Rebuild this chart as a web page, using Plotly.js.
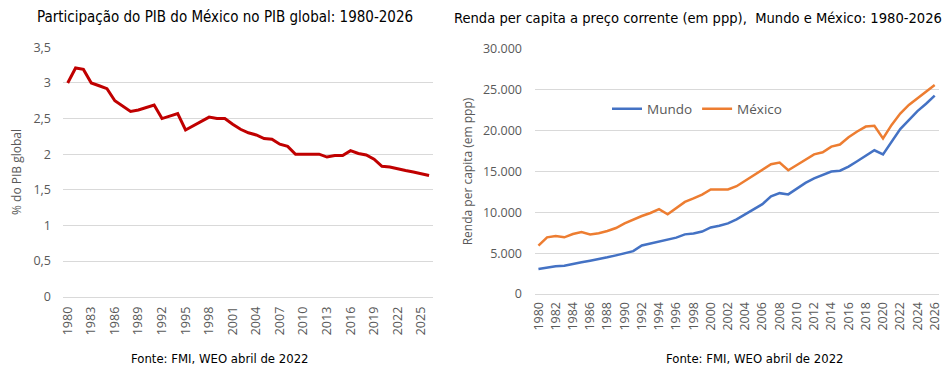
<!DOCTYPE html>
<html>
<head>
<meta charset="utf-8">
<script src="https://cdn.plot.ly/plotly-3.0.1.min.js"></script>
<style>html,body{margin:0;padding:0;background:#fff}#chart{width:952px;height:376px}</style>
</head>
<body>
<div id="chart"></div>
<script>
const years = [];
for (let y = 1980; y <= 2026; y++) years.push(y);

const sharePIB = [3.00,3.21,3.19,3.00,2.96,2.92,2.75,2.68,2.60,2.62,2.65,2.69,2.50,2.53,2.57,2.34,2.40,2.47,2.52,2.50,
  2.50,2.42,2.35,2.30,2.27,2.22,2.21,2.14,2.11,2.00,2.00,2.00,2.00,1.96,1.98,1.98,2.05,2.01,1.99,1.93,
  1.83,1.82,1.79,1.77,1.75,1.72,1.70];

const mundo = [3060,3270,3390,3470,3630,3880,4080,4240,4490,4730,4980,5250,5950,6200,6450,6700,6900,7300,7400,7650,
  8150,8350,8650,9150,9800,10350,11000,11950,12350,12200,12950,13600,14150,14600,15000,15100,15600,16250,16950,17600,
  17100,18700,20200,21300,22400,23300,24300];

const mexico = [5920,6940,7100,6940,7350,7590,7300,7430,7710,8080,8650,9140,9550,9920,10400,9760,10500,11270,11700,12160,
  12800,12800,12800,13200,13900,14500,15300,15900,16100,15150,15800,16450,17100,17350,18050,18300,19200,19900,20500,20600,
  19050,20700,22100,23150,23950,24800,25600];

const titleLeft = "Participação do PIB do México no PIB global: 1980-2026";
const titleRight = "Renda per capita a preço corrente (em ppp),  Mundo e México: 1980-2026";
const source = "Fonte: FMI, WEO abril de 2022";

const narrow = "Liberation Sans Narrow, Arial Narrow, DejaVu Sans Condensed, sans-serif";
const tickFont = {family: "Open Sans, Liberation Sans, sans-serif", size: 12.5, color: "#595959"};
const axTitleFont = {family: "Open Sans, Liberation Sans, sans-serif", size: 12, color: "#595959"};
const W = 952, H = 376;
const fx = p => p / W;
const fy = p => (H - p) / H;

const traces = [
  {x: years, y: sharePIB, type: "scatter", mode: "lines", xaxis: "x", yaxis: "y",
   line: {color: "#C00000", width: 3}, showlegend: false},
  {x: years, y: mundo, type: "scatter", mode: "lines", name: "Mundo", xaxis: "x2", yaxis: "y2",
   line: {color: "#4472C4", width: 2.5}},
  {x: years, y: mexico, type: "scatter", mode: "lines", name: "México", xaxis: "x2", yaxis: "y2",
   line: {color: "#ED7D31", width: 2.5}}
];

const layout = {
  width: W, height: H,
  margin: {l: 0, r: 0, t: 0, b: 0},
  paper_bgcolor: "#fff", plot_bgcolor: "#fff",
  separators: ",.",
  showlegend: true,
  legend: {orientation: "h", x: fx(607), y: fy(109), xanchor: "left", yanchor: "middle",
    font: {family: "Open Sans, Liberation Sans, sans-serif", size: 13.5, color: "#595959"},
    bgcolor: "rgba(0,0,0,0)", itemwidth: 30, tracegroupgap: 0},
  xaxis: {domain: [fx(63), fx(433)], anchor: "y", range: [1979.4, 2026.5],
    tickmode: "linear", tick0: 1980, dtick: 3, tickangle: -90, ticks: "",
    showgrid: false, zeroline: false, showline: true, linecolor: "#D9D9D9",
    tickfont: tickFont, ticklabelstandoff: 4},
  yaxis: {domain: [fy(296.7), fy(47.3)], anchor: "x", range: [0, 3.5],
    tickmode: "linear", tick0: 0, dtick: 0.5, showgrid: true, gridcolor: "#D9D9D9",
    zeroline: false, showline: false, ticks: "", tickfont: tickFont, ticklabelstandoff: 11,
    title: {text: "% do PIB global", font: axTitleFont, standoff: 9}},
  xaxis2: {domain: [fx(535), fx(939)], anchor: "y2", range: [1979.6, 2026.5],
    tickmode: "linear", tick0: 1980, dtick: 2, tickangle: -90, ticks: "",
    showgrid: false, zeroline: false, showline: true, linecolor: "#D9D9D9",
    tickfont: tickFont, ticklabelstandoff: 2},
  yaxis2: {domain: [fy(294), fy(49)], anchor: "x2", range: [0, 30000],
    tickmode: "linear", tick0: 0, dtick: 5000, tickformat: ",d", showgrid: true, gridcolor: "#D9D9D9",
    zeroline: false, showline: false, ticks: "", tickfont: tickFont, ticklabelstandoff: 12,
    title: {text: "Renda per capita (em ppp)", font: axTitleFont, standoff: 7}},
  annotations: [
    {text: titleLeft, xref: "paper", yref: "paper", x: fx(225), y: fy(17), xanchor: "center", yanchor: "middle",
     showarrow: false, font: {family: narrow, size: 15, color: "#000"}},
    {text: titleRight, xref: "paper", yref: "paper", x: fx(698), y: fy(17), xanchor: "center", yanchor: "middle",
     showarrow: false, font: {family: narrow, size: 14.6, color: "#000"}},
    {text: source, xref: "paper", yref: "paper", x: fx(220), y: fy(358), xanchor: "center", yanchor: "middle",
     showarrow: false, font: {family: narrow, size: 13, color: "#000"}},
    {text: source, xref: "paper", yref: "paper", x: fx(755), y: fy(358), xanchor: "center", yanchor: "middle",
     showarrow: false, font: {family: narrow, size: 13, color: "#000"}}
  ]
};

Plotly.newPlot("chart", traces, layout, {displayModeBar: false, staticPlot: true});
</script>
</body>
</html>
